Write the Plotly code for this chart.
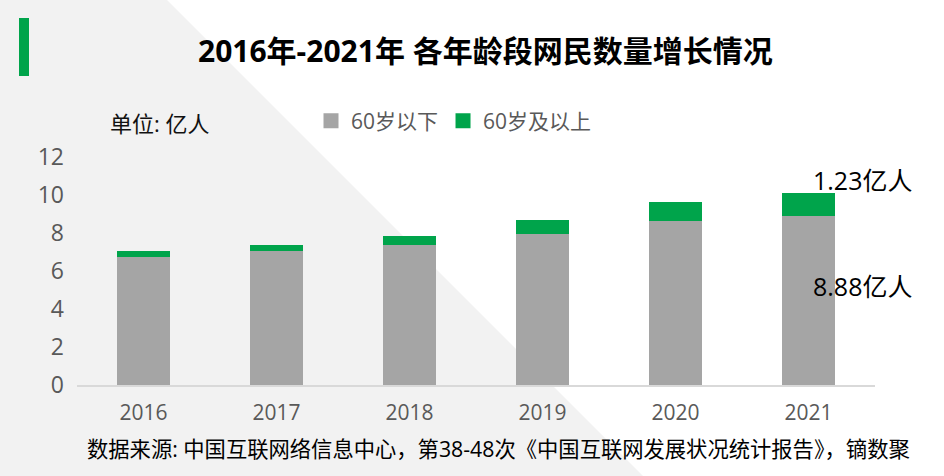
import plotly.graph_objects as go

years = ["2016", "2017", "2018", "2019", "2020", "2021"]
under_60 = [6.74, 7.05, 7.37, 7.95, 8.63, 8.88]
over_60 = [0.32, 0.32, 0.47, 0.74, 1.00, 1.23]
y_ticks = [0, 2, 4, 6, 8, 10, 12]

W, H = 944, 476
L, R, B, T = 77, 875, 385, 145
PPU = 19.0  # pixels per unit
y_max = (B - T) / PPU

GRAY = "#A5A5A5"
GREEN = "#00A44B"
TXT = "#595959"
FONT = "Open Sans, Noto Sans CJK SC, sans-serif"


def px(x):
    return (x - L) / (R - L)


def py(y):
    return (B - y) / (B - T)


fig = go.Figure()
fig.add_trace(go.Bar(x=years, y=under_60, name="60岁以下", marker=dict(color=GRAY, line=dict(width=0)),
                     width=0.4, hoverinfo="skip", showlegend=False, legendgroup="a"))
fig.add_trace(go.Bar(x=years, y=over_60, name="60岁及以上", marker=dict(color=GREEN, line=dict(width=0)),
                     width=0.4, hoverinfo="skip", showlegend=False, legendgroup="b"))
# legend entries with larger square swatches
fig.add_trace(go.Scatter(x=[None], y=[None], mode="markers", name="60岁以下", legendgroup="a",
                         marker=dict(symbol="square", size=15, color=GRAY, line=dict(width=0))))
fig.add_trace(go.Scatter(x=[None], y=[None], mode="markers", name="60岁及以上", legendgroup="b",
                         marker=dict(symbol="square", size=15, color=GREEN, line=dict(width=0))))

shapes = [
    # diagonal light-gray background
    dict(type="path", xref="paper", yref="paper", layer="below",
         path=f"M {px(-5)},{py(-5)} L {px(162)},{py(-5)} L {px(650)},{py(483)} L {px(-5)},{py(483)} Z",
         fillcolor="#F2F2F2", line=dict(width=0)),
    # green accent bar
    dict(type="rect", xref="paper", yref="paper", layer="above",
         x0=px(19), x1=px(29), y0=py(76), y1=py(18),
         fillcolor=GREEN, line=dict(width=0)),
]

last = len(years) - 1
annotations = [
    dict(text="<b>2016年-2021年 各年龄段网民数量增长情况</b>", xref="paper", yref="paper",
         x=px(485), y=py(50), xanchor="center", yanchor="middle", showarrow=False,
         font=dict(family=FONT, size=30, color="#000000")),
    dict(text="单位: 亿人", xref="paper", yref="paper", x=px(108), y=py(123),
         xanchor="left", yanchor="middle", showarrow=False,
         font=dict(family=FONT, size=22, color="#111111")),
    dict(text=f"{over_60[last]:.2f}亿人", xref="x", yref="y", x=last,
         y=under_60[last] + over_60[last], xanchor="left", yanchor="middle", xshift=2, yshift=13,
         showarrow=False, font=dict(family=FONT, size=25, color="#000000")),
    dict(text=f"{under_60[last]:.2f}亿人", xref="x", yref="y", x=last,
         y=under_60[last] / 2, xanchor="left", yanchor="middle", xshift=2, yshift=15,
         showarrow=False, font=dict(family=FONT, size=25, color="#000000")),
    dict(text="数据来源: 中国互联网络信息中心，第38-48次《中国互联网发展状况统计报告》，镝数聚",
         xref="paper", yref="paper", x=px(498), y=py(448), xanchor="center", yanchor="middle",
         showarrow=False, font=dict(family=FONT, size=21.3, color="#000000")),
]

fig.update_layout(
    width=W, height=H,
    margin=dict(l=L, r=W - R, t=T, b=H - B, pad=0, autoexpand=False),
    paper_bgcolor="#FFFFFF",
    plot_bgcolor="rgba(0,0,0,0)",
    barmode="stack",
    showlegend=True,
    legend=dict(orientation="h", xref="container", yref="container",
                x=311 / W, y=1 - 121 / H, xanchor="left", yanchor="middle",
                font=dict(family=FONT, size=21, color=TXT), bgcolor="rgba(0,0,0,0)",
                itemclick=False, itemdoubleclick=False, traceorder="normal", tracegroupgap=0),
    shapes=shapes,
    annotations=annotations,
    xaxis=dict(type="category", range=[-0.5, len(years) - 0.5], showline=True, linecolor="#D9D9D9",
               linewidth=2, showgrid=False, zeroline=False,
               ticks="", tickfont=dict(family=FONT, size=21, color=TXT), ticklabelstandoff=8,
               fixedrange=True),
    yaxis=dict(range=[0, y_max], tickvals=y_ticks, showline=False, showgrid=False, zeroline=False,
               ticks="", tickfont=dict(family=FONT, size=23, color=TXT), ticklabelstandoff=12,
               fixedrange=True),
)

fig.write_html("out.html", config={"displayModeBar": False})
